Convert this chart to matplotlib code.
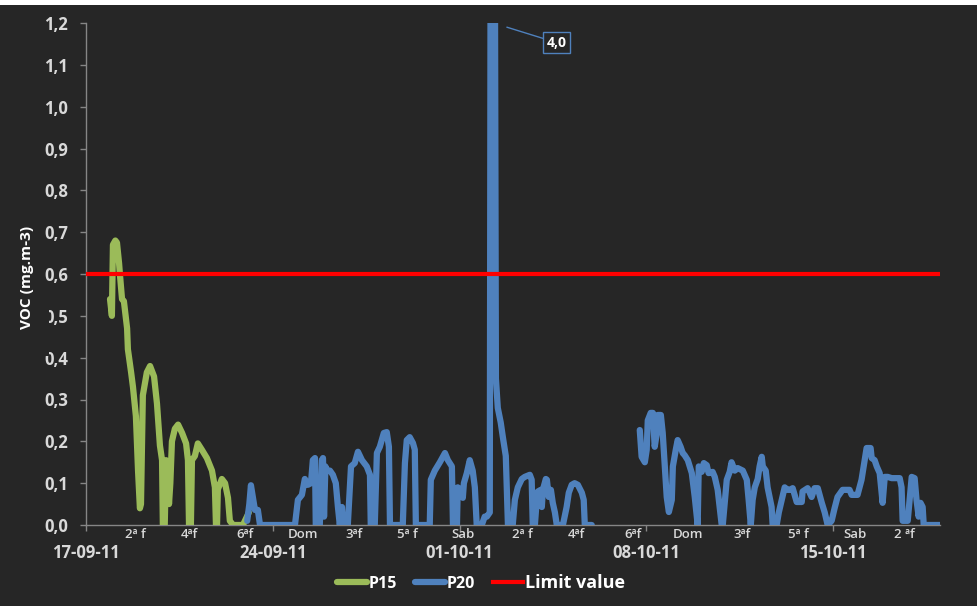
import numpy as np
import matplotlib
matplotlib.use("Agg")
import matplotlib.pyplot as plt
from matplotlib.patches import Rectangle
from matplotlib.ticker import FuncFormatter

# VOC readings, x in days since 17-09-11
p15_day = [0.90, 0.97, 1.01, 1.10, 1.16, 1.24, 1.27, 1.35, 1.42, 1.54, 1.57, 1.69, 1.76,
           1.87, 1.95, 2.02, 2.06, 2.13, 2.28, 2.40, 2.55, 2.66, 2.77, 2.85, 2.88, 2.95,
           3.00, 3.07, 3.11, 3.16, 3.22, 3.33, 3.45, 3.60, 3.75, 3.82, 3.86, 3.93, 3.97,
           4.08, 4.19, 4.34, 4.53, 4.72, 4.83, 4.87, 4.91, 4.94, 5.09, 5.21, 5.32, 5.39,
           5.51, 5.88, 6.03, 6.10]
p15_voc = [0.54, 0.50, 0.67, 0.68, 0.675, 0.625, 0.60, 0.54, 0.535, 0.47, 0.42, 0.365, 0.33,
           0.26, 0.13, 0.04, 0.05, 0.31, 0.365, 0.38, 0.355, 0.29, 0.19, 0.155, 0.0, 0.0,
           0.155, 0.13, 0.05, 0.10, 0.20, 0.23, 0.24, 0.22, 0.195, 0.155, 0.0, 0.0, 0.155,
           0.165, 0.195, 0.18, 0.16, 0.13, 0.09, 0.0, 0.0, 0.085, 0.11, 0.10, 0.065, 0.01,
           0.0, 0.0, 0.02, 0.03]

p20_day = [6.04, 6.12, 6.18, 6.25, 6.33, 6.44, 6.52, 7.83, 7.94, 8.09, 8.20, 8.31, 8.43,
           8.50, 8.58, 8.61, 8.76, 8.84, 8.88, 8.92, 8.97, 9.03, 9.14, 9.25, 9.36, 9.44,
           9.51, 9.59, 9.63, 9.81, 9.93, 10.07, 10.19, 10.34, 10.52, 10.64, 10.67, 10.82,
           10.90, 11.01, 11.16, 11.27, 11.35, 11.39, 11.87, 11.95, 12.02, 12.13, 12.25,
           12.32, 12.36, 12.88, 12.92, 13.07, 13.26, 13.45, 13.56, 13.71, 13.75, 13.90,
           13.93, 14.04, 14.12, 14.16, 14.27, 14.38, 14.49, 14.57, 14.64, 14.83, 14.94,
           15.02, 15.13, 15.22, 15.36, 15.43, 15.54, 15.62, 15.73, 15.81, 15.99, 16.07,
           16.18, 16.33, 16.44, 16.63, 16.70, 16.74, 16.82, 16.89, 16.93, 17.04, 17.08,
           17.12, 17.23, 17.27, 17.34, 17.42, 17.49, 17.57, 17.64, 17.87, 18.01, 18.09,
           18.20, 18.31, 18.43, 18.58, 18.65, 18.69, 18.95, 19.80,
           20.75, 20.82, 20.94, 21.01, 21.05, 21.16, 21.24, 21.31, 21.39, 21.42, 21.54,
           21.61, 21.69, 21.76, 21.84, 21.95, 21.99, 22.10, 22.17, 22.28, 22.36, 22.43,
           22.55, 22.70, 22.81, 22.92, 22.96, 23.07, 23.15, 23.26, 23.33, 23.48, 23.56,
           23.67, 23.82, 23.86, 24.01, 24.12, 24.19, 24.31, 24.42, 24.61, 24.76, 24.83,
           24.91, 24.98, 25.06, 25.17, 25.24, 25.32, 25.36, 25.47, 25.54, 25.69, 25.73,
           25.88, 25.96, 26.07, 26.18, 26.29, 26.37, 26.48, 26.63, 26.82, 26.85, 27.04,
           27.19, 27.30, 27.42, 27.57, 27.68, 27.79, 27.94, 28.05, 28.16, 28.35, 28.61,
           28.69, 28.91, 29.06, 29.18, 29.25, 29.40, 29.44, 29.55, 29.63, 29.74, 29.85,
           29.93, 30.04, 30.19, 30.49, 30.56, 30.60, 30.79, 30.94, 31.05, 31.12, 31.20,
           31.27, 31.35, 31.39, 31.99]
p20_voc = [0.01, 0.05, 0.095, 0.067, 0.036, 0.036, 0.0, 0.0, 0.06, 0.072, 0.11, 0.096, 0.10,
           0.155, 0.16, 0.0, 0.0, 0.155, 0.16, 0.02, 0.14, 0.13, 0.13, 0.12, 0.10, 0.043,
           0.0, 0.043, 0.0, 0.0, 0.14, 0.148, 0.175, 0.155, 0.14, 0.12, 0.0, 0.0,
           0.172, 0.187, 0.22, 0.222, 0.187, 0.0, 0.0, 0.148, 0.203, 0.21, 0.196,
           0.18, 0.0, 0.0, 0.108, 0.13, 0.15, 0.172, 0.155, 0.14, 0.0, 0.0,
           0.09, 0.084, 0.065, 0.10, 0.124, 0.155, 0.13, 0.09, 0.0, 0.0, 0.02,
           0.02, 0.03, 4.0, 0.35, 0.28, 0.245, 0.21, 0.165, 0.0, 0.0, 0.06,
           0.09, 0.11, 0.115, 0.12, 0.108, 0.0, 0.0, 0.06, 0.08, 0.084, 0.043,
           0.084, 0.11, 0.108, 0.067, 0.084, 0.053, 0.03, 0.0, 0.0, 0.043, 0.077,
           0.096, 0.10, 0.096, 0.077, 0.06, 0.0, 0.0, np.nan,
           0.227, 0.163, 0.15, 0.18, 0.25, 0.268, 0.268, 0.187, 0.22, 0.263, 0.263,
           0.22, 0.14, 0.067, 0.031, 0.06, 0.14, 0.18, 0.203, 0.187, 0.172, 0.167,
           0.155, 0.124, 0.067, 0.0, 0.14, 0.127, 0.148, 0.143, 0.124, 0.127, 0.115,
           0.084, 0.0, 0.0, 0.108, 0.127, 0.15, 0.13, 0.136, 0.13, 0.108, 0.06,
           0.0, 0.06, 0.09, 0.11, 0.14, 0.163, 0.14, 0.13, 0.09, 0.043, 0.0,
           0.0, 0.03, 0.06, 0.09, 0.084, 0.084, 0.088, 0.055, 0.055, 0.08, 0.088,
           0.067, 0.088, 0.088, 0.053, 0.03, 0.0, 0.01, 0.04, 0.067, 0.084, 0.084,
           0.072, 0.072, 0.108, 0.155, 0.184, 0.184, 0.16, 0.155, 0.14, 0.124, 0.053,
           0.115, 0.115, 0.112, 0.112, 0.09, 0.01, 0.01, 0.115, 0.112, 0.06, 0.02,
           0.053, 0.043, 0.0, 0.0]

limit_value = 0.6

week_days = [0, 7, 14, 21, 28]
week_labels = ["17-09-11", "24-09-11", "01-10-11", "08-10-11", "15-10-11"]

weekday_pos = [1.84, 3.86, 5.96, 8.13, 10.04, 12.06, 14.12, 16.37, 18.39, 20.49,
               22.55, 24.57, 26.70, 28.80, 30.67]
weekday_labels = ["2ª f", "4ªf", "6ªf", "Dom", "3ªf", "5ª f", "Sab", "2ª f", "4ªf",
                  "6ªf", "Dom", "3ªf", "5ª f", "Sab", "2 ªf"]

BG = "#262626"
GREEN = "#9BBB59"
BLUE = "#4F81BD"
RED = "#FF0000"
TXT = "#D9D9D9"
AXC = "#868686"

plt.rcParams["font.family"] = ["Open Sans", "DejaVu Sans"]

fig = plt.figure(figsize=(9.78, 6.06), dpi=100, facecolor="white")
fig.patches.append(Rectangle((0, 0), 1, 1 - 5 / 606, transform=fig.transFigure,
                             facecolor=BG, edgecolor="none", zorder=-10))

ax = fig.add_axes([86 / 978, 1 - 525 / 606, 854 / 978, 502 / 606])
ax.set_facecolor(BG)

ax.plot(p15_day, p15_voc, color=GREEN, lw=4.5, solid_joinstyle="round",
        solid_capstyle="round", label="P15", zorder=3)
ax.plot(p20_day, p20_voc, color=BLUE, lw=4.5, solid_joinstyle="round",
        solid_capstyle="round", label="P20", zorder=3)
ax.axhline(limit_value, color=RED, lw=3, label="Limit value", zorder=4)

ax.set_xlim(0, 32)
ax.set_ylim(0, 1.2)

# peak value of P20 goes far off the scale, so it gets a callout
peak_i = int(np.nanargmax(p20_voc))
peak_day, peak_val = p20_day[peak_i], p20_voc[peak_i]
ax.annotate(f"{peak_val:.1f}".replace(".", ","),
            xy=(peak_day + 0.55, 1.19), xytext=(peak_day + 2.42, 1.153),
            textcoords="data", annotation_clip=False,
            ha="center", va="center", color="white", fontsize=10, fontweight="bold",
            bbox=dict(boxstyle="square,pad=0.25", facecolor=BG, edgecolor=BLUE, lw=1),
            arrowprops=dict(arrowstyle="-", color=BLUE, lw=1, shrinkA=0, shrinkB=0))

# axes styling
for s in ["top", "right"]:
    ax.spines[s].set_visible(False)
for s in ["left", "bottom"]:
    ax.spines[s].set_color(AXC)
    ax.spines[s].set_linewidth(1)

ax.set_yticks(np.arange(0, 1.21, 0.1))
ax.yaxis.set_major_formatter(FuncFormatter(lambda v, p: f"{v:.1f}".replace(".", ",")))
ax.tick_params(axis="y", colors=AXC, length=4, width=1, labelcolor=TXT,
               labelsize=12, pad=9)
for t in ax.get_yticklabels():
    t.set_fontweight("bold")

ax.set_xticks(week_days)
ax.set_xticklabels(week_labels)
ax.tick_params(axis="x", colors=AXC, length=4, width=1, labelcolor=TXT,
               labelsize=12, pad=10)
for t in ax.get_xticklabels():
    t.set_fontweight("bold")

for d, lab in zip(weekday_pos, weekday_labels):
    ax.text(d, -0.006, lab, transform=ax.get_xaxis_transform(), ha="center", va="top",
            fontsize=9.5, color=TXT, fontweight="semibold")

# y label sits in a filled box that hides part of the tick labels
fig.patches.append(Rectangle((0, 1 - 356 / 606), 49 / 978, 68 / 606,
                             transform=fig.transFigure, facecolor=BG,
                             edgecolor="none", zorder=5))
fig.text(27 / 978, 1 - 277 / 606, "VOC (mg.m-3)", rotation=90, ha="center",
         va="center", color="white", fontsize=11, fontweight="bold", zorder=6)

leg = fig.legend(loc="center", bbox_to_anchor=(481 / 978, 1 - 583 / 606), ncol=3,
                 frameon=False, handlelength=1.9, handletextpad=0.1,
                 columnspacing=1.1, prop={"weight": "bold", "size": 11.5})
for t in leg.get_texts():
    t.set_color("white")
leg.get_texts()[2].set_fontsize(13)

fig.savefig("out.png", dpi=100, facecolor=fig.get_facecolor())
